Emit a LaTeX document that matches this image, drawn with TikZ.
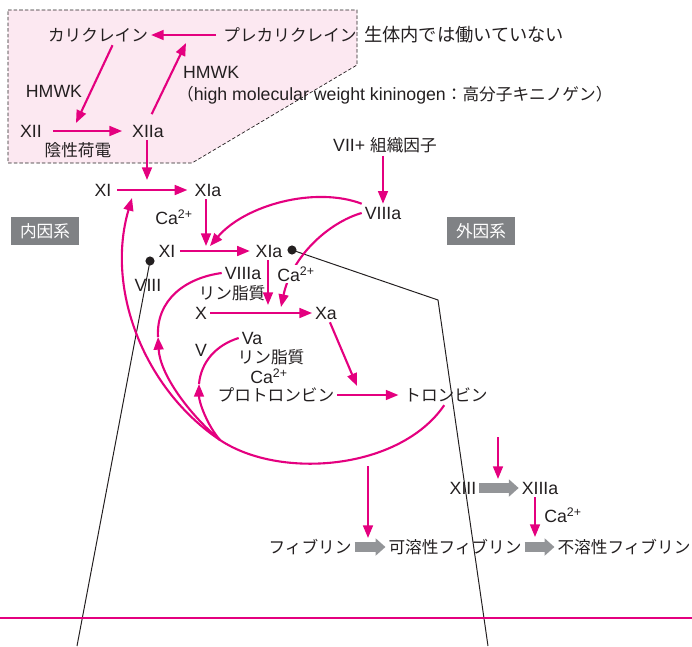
\documentclass[tikz,border=0pt]{standalone}
\usepackage{fontspec}
\setmainfont{Liberation Sans}
\newfontfamily\jp[Scale=0.94]{Noto Sans CJK JP}
\usetikzlibrary{arrows.meta}
\definecolor{rose}{HTML}{E4007F}
\definecolor{ink}{HTML}{231F20}
\definecolor{ash}{HTML}{939598}
\definecolor{slate}{HTML}{808285}
\definecolor{blush}{HTML}{FCE8F1}
\newcommand\fsz{\fontsize{12.6pt}{14pt}\selectfont}
\newcommand\fbig{\fontsize{13.8pt}{15pt}\selectfont}

\begin{document}
\begin{tikzpicture}[x=0.025cm, y=-0.025cm,
  lbl/.style={inner sep=2pt, text=ink, font=\fsz},
  sys/.style={fill=slate, text=white, font=\fsz, inner sep=0pt,
    minimum width=1.72cm, minimum height=0.7cm},
  pk/.style={draw=rose, line width=1.5pt, -{Triangle[length=9pt,width=7pt]}},
  pkline/.style={draw=rose, line width=1.5pt},
  garr/.style={draw=ash, line width=7pt, -{Triangle[length=7pt,width=12pt]}},
  wire/.style={draw=ink, line width=0.7pt},
  dot/.style={circle, fill=ink, inner sep=0pt, minimum size=6.5pt},
]
  \useasboundingbox (0,0) rectangle (692,646);

  % contact phase (not active in vivo)
  \draw[draw=ink, fill=blush, line width=0.5pt, dash pattern=on 2.5pt off 1.5pt]
    (8,10) -- (357,10) -- (357,65) -- (192,163) -- (8,163) -- cycle;

  \node[lbl] (kal) at (98,35) {\jp カリクレイン};
  \node[lbl] (prekal) at (290,35) {\jp プレカリクレイン};
  \node[lbl, font=\fbig, anchor=west] (note) at (361,35) {\jp 生体内では働いていない};
  \node[lbl] (hmwk1) at (54,91) {HMWK};
  \node[lbl, anchor=west] (hmwk2) at (180,72) {HMWK};
  \node[lbl, anchor=west] (hmwkfull) at (174,95)
    {{\jp （}high molecular weight kininogen{\jp ：高分子キニノゲン）}};
  \node[lbl] (xii) at (31,131) {XII};
  \node[lbl] (xiia) at (148,131) {XIIa};
  \node[lbl] (neg) at (78,150) {\jp 陰性荷電};

  % intrinsic / extrinsic
  \node[lbl] (xi1) at (103,190) {XI};
  \node[lbl] (xia1) at (208,190) {XIa};
  \node[lbl] (ca1) at (174,217) {Ca\textsuperscript{2+}};
  \node[lbl] (xi2) at (167,251) {XI};
  \node[lbl] (xia2) at (269,251) {XIa};
  \node[lbl] (viii) at (148,285) {VIII};
  \node[lbl] (viiia2) at (243,273) {VIIIa};
  \node[lbl] (pl1) at (232,293) {\jp リン脂質};
  \node[lbl] (x) at (201,313) {X};
  \node[lbl] (xa) at (326,313) {Xa};
  \node[lbl] (v) at (201,350) {V};
  \node[lbl] (va) at (252,338) {Va};
  \node[lbl] (pl2) at (271,357) {\jp リン脂質};
  \node[lbl] (ca3) at (269,376) {Ca\textsuperscript{2+}};
  \node[lbl] (pth) at (276,395) {\jp プロトロンビン};
  \node[lbl] (thr) at (446,395) {\jp トロンビン};
  \node[lbl] (vii) at (385,145) {VII+ {\jp 組織因子}};
  \node[lbl] (viiia) at (383,213) {VIIIa};
  \node[sys] (exo) at (481,231) {\jp 外因系};
  \node[sys] (endo) at (45,231) {\jp 内因系};

  % fibrin
  \node[lbl] (xiii) at (463,488) {XIII};
  \node[lbl] (xiiia) at (540,488) {XIIIa};
  \node[lbl] (ca4) at (563,515) {Ca\textsuperscript{2+}};
  \node[lbl] (fib) at (310,547) {\jp フィブリン};
  \node[lbl] (sfib) at (455,547) {\jp 可溶性フィブリン};
  \node[lbl] (ifib) at (624,547) {\jp 不溶性フィブリン};

  \node[dot] (d1) at (150,261) {};
  \node[dot] (d2) at (292,250) {};

  \coordinate (k1) at (186,43);
  \coordinate (k2) at (76,123);
  \coordinate (k3) at (147,180);
  \coordinate (k4) at (206,246);
  \coordinate (k5) at (268,305);
  \coordinate (k6) at (357,386);
  \coordinate (k8) at (535,537);
  \coordinate (k9) at (368,466);
  \coordinate (k10) at (368,538);
  \coordinate (k11) at (498,437);
  \coordinate (k12) at (498,479);
  \coordinate (jn) at (220,440);
  \coordinate (t1) at (132,198);
  \coordinate (t2) at (210,246);
  \coordinate (t3) at (281,307);
  \coordinate (p2) at (158,337);
  \coordinate (q) at (199,384);
  \coordinate (b1) at (77,646);
  \coordinate (b2) at (438,300);
  \coordinate (b3) at (488,646);

  % black guide lines
  \draw[wire] (d1.center) -- (b1);
  \draw[wire] (d2.center) -- (b2) -- (b3);
  \draw[draw=rose, line width=1.2pt] (0,618) -- (692,618);

  \draw[pk, shorten <=3pt] (prekal) -- (kal);
  \draw[pk] (kal.-35) -- (k2);
  \draw[pk, shorten <=6pt, shorten >=5pt] (xii) -- (xiia);
  \draw[pk, shorten <=6pt] (xiia.north) -- (k1);
  \draw[pk] (k3 |- xiia.south) -- (k3);
  \draw[pk, shorten <=2pt, shorten >=3pt] (xi1) -- (xia1);
  \draw[pk] (xia1.south -| k4) -- (k4);
  \draw[pk, shorten <=1pt, shorten >=2pt] (xi2) -- (xia2);
  \draw[pk] (xia2.south -| k5) -- (k5);
  \draw[pk] (x) -- (xa);
  \draw[pk] (xa) -- (k6);
  \draw[pk, shorten >=2pt] (pth) -- (thr);
  \draw[pk] (viiia.north |- vii.south) -- (viiia.north);

  % feedback from VIIa and thrombin
  \draw[pk] (viiia.north west) .. controls (315,186) and (245,205) .. (t2);
  \draw[pk] (viiia.west) .. controls (330,222) and (292,255) .. (t3);
  \draw[pk] (thr.-100) .. controls (400,470) and (280,480) .. (jn)
    .. controls (145,390) and (105,290) .. (t1);
  \draw[pk] (jn) .. controls (190,415) and (160,375) .. (p2);
  \draw[pkline] (p2) .. controls (156,300) and (185,278) .. (viiia2.west);
  \draw[pk] (jn) .. controls (207,425) and (199,402) .. (q);
  \draw[pkline] (q) .. controls (201,362) and (216,345) .. (va.west);
  \node[lbl, fill=white, inner sep=1pt] (ca2) at (296,274) {Ca\textsuperscript{2+}};

  \draw[pk] (k9) -- (k10);
  \draw[pk] (k11) -- (k12);
  \draw[pk] (xiiia.south -| k8) -- (k8);
  \draw[garr] (fib) -- (sfib);
  \draw[garr] (sfib) -- (ifib);
  \draw[garr] (xiii) -- (xiiia);
\end{tikzpicture}
\end{document}
